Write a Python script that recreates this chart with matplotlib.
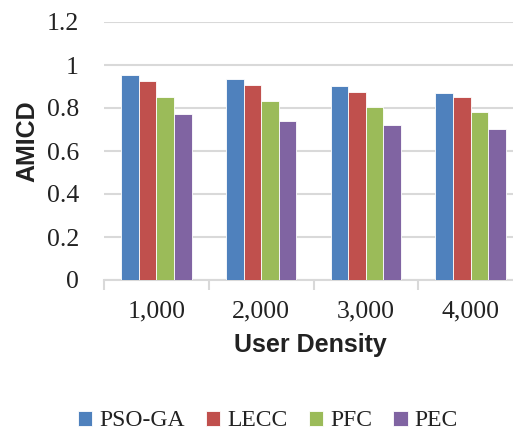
import numpy as np
import matplotlib.pyplot as plt

# data
categories = ['1,000', '2,000', '3,000', '4,000']
pso_ga = [0.953, 0.933, 0.901, 0.870]
lecc = [0.924, 0.905, 0.873, 0.850]
pfc = [0.850, 0.831, 0.806, 0.780]
pec = [0.772, 0.741, 0.720, 0.701]
series_names = ['PSO-GA', 'LECC', 'PFC', 'PEC']
colors = ['#4F81BD', '#C0504D', '#9BBB59', '#8064A2']

W, H = 513, 434
fig = plt.figure(figsize=(W / 100, H / 100), dpi=100)
# axes: left 104px, right 523px (past figure edge), top 22px, bottom 280px
ax = fig.add_axes([104 / W, 1 - 280 / H, (523 - 104) / W, (280 - 22) / H])

x = np.arange(len(categories))
bw = 0.168
for i, (vals, name, c) in enumerate(zip([pso_ga, lecc, pfc, pec], series_names, colors)):
    ax.bar(x + (i - 1.5) * bw, vals, bw, color=c, label=name,
           edgecolor='white', linewidth=0.6, zorder=3)

ax.set_xlim(-0.5, 3.5)
ax.set_ylim(0, 1.2)
ax.set_yticks(np.arange(0, 1.21, 0.2))
ax.set_yticklabels(['0', '0.2', '0.4', '0.6', '0.8', '1', '1.2'],
                   family='Liberation Serif', fontsize=18.5, color='#222222')
ax.yaxis.grid(True, color='#D9D9D9', linewidth=1.5, zorder=0)
ax.tick_params(axis='y', length=0, pad=18)

ax.set_xticks(x)
ax.set_xticklabels(categories, family='Liberation Serif', fontsize=18.5, color='#222222')
ax.tick_params(axis='x', which='major', length=0, pad=15)
ax.set_xticks(np.arange(-0.5, 3.6, 1), minor=True)
ax.tick_params(axis='x', which='minor', length=7, width=1.5, color='#D9D9D9', direction='out')

for s in ['top', 'right', 'left']:
    ax.spines[s].set_visible(False)
ax.spines['bottom'].set_color('#D9D9D9')
ax.spines['bottom'].set_linewidth(1.5)

fig.text(27 / W, 1 - 141 / H, 'AMICD', family='Liberation Sans', fontweight='bold',
         fontsize=18, rotation=90, ha='center', va='center', color='#222222')
fig.text(310 / W, 1 - 345 / H, 'User Density', family='Liberation Sans', fontweight='bold',
         fontsize=18, ha='center', va='center', color='#222222')

leg = fig.legend(loc='center', bbox_to_anchor=(268 / W, 1 - 421 / H), ncol=4, frameon=False,
                 prop={'family': 'Liberation Serif', 'size': 17},
                 handlelength=0.6, handleheight=0.6, handletextpad=0.3, columnspacing=0.9)
for t in leg.get_texts():
    t.set_color('#222222')

fig.savefig('out.png', dpi=100)
